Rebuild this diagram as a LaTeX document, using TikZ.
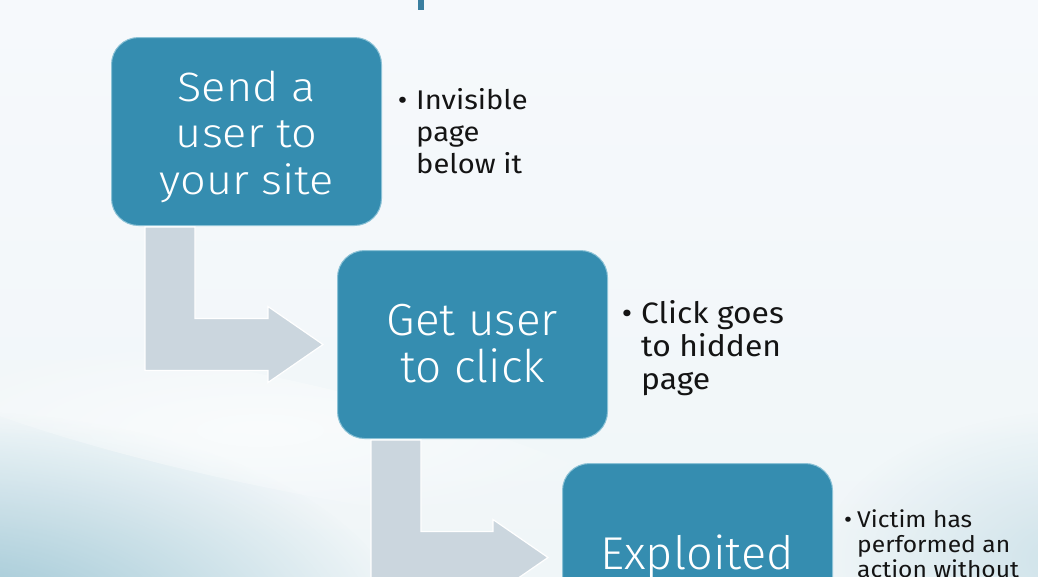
\documentclass[tikz,border=0pt]{standalone}
\usepackage{fontspec}
\setmainfont{Fira Sans}
\newfontfamily\boxfont{Fira Sans Light}[FakeStretch=1.1]
\newfontfamily\boxfontnarrow{Fira Sans Light}[FakeStretch=1.02]
\newfontfamily\notefont{Fira Sans}[FakeStretch=1.08]
\usetikzlibrary{calc,fadings}

\definecolor{bgtop}{RGB}{246,249,252}
\definecolor{bgbot}{RGB}{240,246,248}
\definecolor{swoosh}{RGB}{140,188,205}
\definecolor{boxblue}{RGB}{53,141,176}
\definecolor{boxedge}{RGB}{140,194,214}
\definecolor{arrowgray}{RGB}{203,214,222}
\definecolor{titleblue}{RGB}{58,127,160}
\definecolor{notetext}{RGB}{20,20,20}

\tikzfading[name=softedge, inner color=transparent!0, outer color=transparent!100]

\tikzset{
  stepbox/.style={draw=boxedge, line width=1pt, fill=boxblue, rounded corners=27pt,
    minimum width=270pt, minimum height=188pt, inner sep=0pt, anchor=north west},
  steptext/.style={text=white, align=center, inner sep=0pt},
  note/.style={anchor=north west, align=left, inner sep=0pt, text=notetext},
  bentarrow/.style={fill=arrowgray, draw=white, line width=1.2pt, line join=miter},
}

\begin{document}
\begin{tikzpicture}[x=1pt, y=-1pt]
  % slide background
  \shade[top color=bgtop, bottom color=bgbot] (0,0) rectangle (1038,576);
  \useasboundingbox (0,0) rectangle (1038,576);
  \clip (0,0) rectangle (1038,576);
  \fill[swoosh, path fading=softedge, fill opacity=0.95]
    (-60,640) ellipse [x radius=470, y radius=230];
  \fill[swoosh, path fading=softedge, fill opacity=0.35]
    (1080,560) ellipse [x radius=260, y radius=150];
  \fill[white, path fading=softedge, fill opacity=0.6, rotate around={-12:(260,430)}]
    (260,430) ellipse [x radius=380, y radius=55];

  % descender of the slide title
  \fill[titleblue] (418,0) rectangle (424,10);

  % process boxes
  \node[stepbox] (s1) at (111,37) {};
  \node[stepbox] (s2) at (337,250) {};
  \node[stepbox] (s3) at (562,463) {};

  \node[steptext, font={\boxfont\fontsize{41}{46.5}\selectfont}] (t1)
    at ($(s1.center)+(0,5)$) {Send a\\user to\\your site};
  \node[steptext, font={\boxfontnarrow\fontsize{45}{47}\selectfont}] (t2)
    at ($(s2.center)+(0,-1)$) {Get user\\to click};
  \node[steptext, anchor=base, font={\boxfontnarrow\fontsize{46}{47}\selectfont}] (t3)
    at (697,569) {Exploited};

  % side notes
  \node[note, font={\notefont\fontsize{27}{32}\selectfont}] (n1) at (416,88)
    {\llap{\textbullet\hspace{9pt}}Invisible\\page\\below it};
  \node[note, font={\notefont\fontsize{29.5}{33}\selectfont}] (n2) at (641,300)
    {\llap{\textbullet\hspace{9pt}}Click goes\\to hidden\\page};
  \node[note, font={\notefont\fontsize{22.8}{25}\selectfont}] (n3) at (857,510)
    {\llap{\textbullet\hspace{5pt}}Victim has\\performed an\\action without};

  % bent arrows between the boxes
  \path let \p1=(s1.south west), \p2=(s2.west) in
    [bentarrow] (\x1+34pt,\y1-1pt) -- (\x1+84pt,\y1-1pt) -- (\x1+84pt,\y2+26pt)
      -- (\x2-69pt,\y2+26pt) -- (\x2-69pt,\y2+38pt) -- (\x2-14pt,\y2)
      -- (\x2-69pt,\y2-38pt) -- (\x2-69pt,\y2-26pt) -- (\x1+34pt,\y2-26pt) -- cycle;
  \path let \p1=(s2.south west), \p2=(s3.west) in
    [bentarrow] (\x1+34pt,\y1-1pt) -- (\x1+84pt,\y1-1pt) -- (\x1+84pt,\y2+26pt)
      -- (\x2-69pt,\y2+26pt) -- (\x2-69pt,\y2+38pt) -- (\x2-14pt,\y2)
      -- (\x2-69pt,\y2-38pt) -- (\x2-69pt,\y2-26pt) -- (\x1+34pt,\y2-26pt) -- cycle;
\end{tikzpicture}
\end{document}
